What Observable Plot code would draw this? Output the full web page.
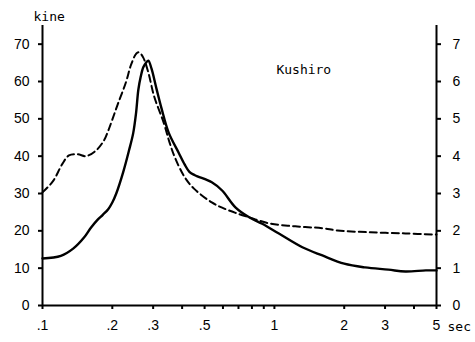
<!DOCTYPE html>
<html>
<head>
<meta charset="utf-8">
<script src="https://cdn.jsdelivr.net/npm/d3@7"></script>
<script src="https://cdn.jsdelivr.net/npm/@observablehq/plot@0.6"></script>
<style>
  html, body { margin: 0; padding: 0; background: #fff; }
</style>
</head>
<body>
<div id="chart"></div>
<script>
// Period axis (sec), log scale
const xTicks = [0.1, 0.2, 0.3, 0.4, 0.5, 0.6, 0.7, 0.8, 0.9, 1, 2, 3, 4, 5];
const xLabelTicks = [0.1, 0.2, 0.3, 0.5, 1, 2, 3, 5];
const leftTicks = [0, 10, 20, 30, 40, 50, 60, 70];   // kine
const rightTicks = [0, 1, 2, 3, 4, 5, 6, 7];

// Solid curve (left axis, kine)
const solidT = [0.1, 0.12, 0.136, 0.151, 0.162, 0.173, 0.182, 0.192, 0.2, 0.208, 0.223, 0.236, 0.246, 0.253, 0.259, 0.265, 0.272, 0.28, 0.286, 0.295, 0.31, 0.326, 0.35, 0.386, 0.41, 0.43, 0.454, 0.537, 0.595, 0.679, 0.775, 0.886, 1.05, 1.32, 1.61, 2.0, 2.46, 3.1, 3.67, 4.5, 5.0];
const solidV = [12.6, 13.3, 15.3, 18.2, 20.9, 23.0, 24.3, 25.8, 27.6, 30.0, 35.8, 41.5, 46.1, 51.4, 57.8, 61.2, 63.8, 65.1, 65.6, 63.5, 58.1, 52.8, 46.3, 41.0, 37.8, 35.8, 34.9, 33.0, 30.8, 26.3, 23.7, 21.9, 19.2, 15.6, 13.4, 11.2, 10.2, 9.6, 9.1, 9.4, 9.4];

// Dashed curve (right axis units)
const dashedT = [0.1, 0.105, 0.1116, 0.122, 0.13, 0.142, 0.154, 0.17, 0.184, 0.192, 0.2, 0.212, 0.229, 0.241, 0.254, 0.261, 0.272, 0.286, 0.303, 0.333, 0.353, 0.372, 0.41, 0.45, 0.537, 0.595, 0.68, 0.78, 0.95, 1.23, 1.61, 1.87, 2.6, 3.67, 5.0];
const dashedV = [3.03, 3.16, 3.35, 3.8, 4.02, 4.05, 4.0, 4.15, 4.42, 4.68, 4.98, 5.42, 5.98, 6.45, 6.75, 6.78, 6.64, 6.24, 5.6, 4.9, 4.37, 3.97, 3.44, 3.13, 2.76, 2.62, 2.48, 2.36, 2.2, 2.12, 2.07, 2.01, 1.96, 1.93, 1.9];

const stationLabel = [{t: 1.02, v: 63, text: "Kushiro"}];
const rightScale = 10; // right axis unit × 10 = kine

const solid = solidT.map((t, i) => ({t, v: solidV[i]}));
const dashed = dashedT.map((t, i) => ({t, v: dashedV[i] * rightScale}));

const fmtX = d => xLabelTicks.includes(d) ? (d < 1 ? String(d).replace(/^0/, "") : String(d)) : "";
const mono = "'DejaVu Sans Mono', monospace";

const chart = Plot.plot({
  width: 475,
  height: 342,
  marginLeft: 42,
  marginRight: 39,
  marginTop: 25,
  marginBottom: 37,
  style: {fontFamily: "'Liberation Sans', Arial, sans-serif", fontSize: "14px", color: "#000", background: "#fff"},
  x: {type: "log", domain: [0.1, 5], label: null},
  y: {domain: [0, 75], label: null},
  marks: [
    Plot.axisX({ticks: xTicks, tickFormat: fmtX, tickSize: 4, tickPadding: 11, strokeWidth: 2, label: null}),
    Plot.axisY({anchor: "left", ticks: leftTicks, tickSize: 4, tickPadding: 9, strokeWidth: 2, label: null}),
    Plot.axisY({anchor: "right", ticks: rightTicks.map(d => d * rightScale), tickFormat: d => String(d / rightScale), tickSize: 4, tickPadding: 12, strokeWidth: 2, label: null}),
    Plot.ruleX([0.1, 5], {stroke: "#000", strokeWidth: 2}),
    Plot.ruleY([0], {stroke: "#000", strokeWidth: 2}),
    Plot.line(dashed, {x: "t", y: "v", curve: "catmull-rom", stroke: "#000", strokeWidth: 2, strokeDasharray: "7,4"}),
    Plot.line(solid, {x: "t", y: "v", curve: "catmull-rom", stroke: "#000", strokeWidth: 2.4}),
    Plot.text(stationLabel, {x: "t", y: "v", text: "text", textAnchor: "start", fontFamily: mono, fontSize: 13}),
    Plot.text(["kine"], {frameAnchor: "top-left", dx: -9, dy: -14, textAnchor: "start", fontFamily: mono, fontSize: 13}),
    Plot.text(["sec"], {frameAnchor: "bottom-right", dx: 11, dy: 25, textAnchor: "start", fontFamily: mono, fontSize: 13})
  ]
});
document.getElementById("chart").appendChild(chart);
</script>
</body>
</html>
